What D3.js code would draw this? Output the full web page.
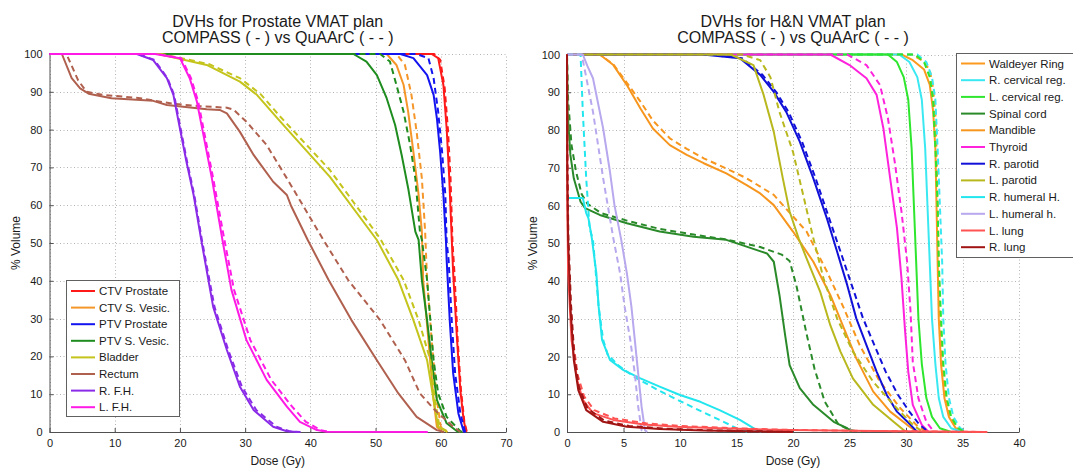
<!DOCTYPE html>
<html>
<head>
<meta charset="utf-8">
<script src="https://cdn.jsdelivr.net/npm/d3@7"></script>
<style>
  html, body { margin: 0; padding: 0; background: #fff; }
  svg { display: block; font-family: "Liberation Sans", Arial, Helvetica, sans-serif; }
</style>
</head>
<body>
<svg id="chart" width="1073" height="468"></svg>
<script>
// ---------- Prostate VMAT plan ----------
const prostateOrgans = ["CTV Prostate", "CTV S. Vesic.", "PTV Prostate", "PTV S. Vesic.", "Bladder", "Rectum", "R. F.H.", "L. F.H."];
const prostateColors = ["#ff1a1a", "#f5962a", "#1414f0", "#1e8c1e", "#c4c41c", "#b0604e", "#8a2be8", "#ff1ae6"];
// COMPASS curves (dose Gy, % volume)
const prostateCompass = [
  [[0,100],[58.6,100],[59.6,98.9],[60.4,91.8],[60.9,80.3],[61.3,67.1],[61.7,50.3],[61.9,42],[62.5,24.3],[63,11.1],[63.5,3.2],[63.9,0]],
  [[0,100],[51.7,100],[53.2,97.1],[54.3,91.8],[55,84.7],[55.8,74.1],[56.6,62.7],[57.1,53],[57.3,40.2],[58.1,24.3],[58.9,8.5],[59.4,1.4],[60.2,0]],
  [[0,100],[53.8,100],[55.8,98.9],[57.9,94.4],[58.9,89.2],[59.4,83],[59.9,74.1],[60.4,62.7],[60.8,50.3],[60.9,45.5],[61.4,28.8],[61.9,15.5],[62.7,4.9],[63.5,0.2],[63.8,0]],
  [[0,100],[46.6,100],[48.6,98],[50.2,94.4],[51.7,88.3],[53,81.2],[54,73.3],[55,64.5],[56.1,53],[56.6,50.8],[57.1,40.2],[57.9,29.6],[58.6,19],[59.4,8.5],[60.9,2.3],[62.5,0.2],[63,0]],
  [[0,100],[16.7,100],[24.1,97.1],[29.2,92.7],[31.8,89.2],[35.4,82.1],[43,67.5],[50.2,50.8],[53.5,40.2],[55.8,29.6],[57.9,19],[58.9,8.5],[59.6,1.4],[61,0]],
  [[0,100],[1.9,100],[3.4,93.6],[4.7,90.9],[6,89.5],[9.5,88.3],[15.9,87.6],[18,86.5],[24.1,85.4],[26.1,85.2],[27.2,84.3],[29.2,79.4],[31.3,73.3],[34.3,66.2],[36.4,62.7],[37,60],[39.6,50.8],[42.8,40.2],[46.3,29.6],[50.2,19],[53.5,10.2],[56.3,4],[59.4,0.5],[60.5,0]],
  [[0,100],[13.4,100],[15.9,98.4],[18,93.6],[19,89.2],[20,80.3],[21,71.5],[22.1,62.7],[23.3,50.5],[25.1,33.1],[27.2,21.7],[29.2,12],[31.3,5.8],[34.3,1.4],[36.4,0.2],[38,0]],
  [[0,100],[16.2,100],[20,98.9],[21.5,93.6],[22.6,87.4],[23.6,78.6],[24.9,67.1],[26.5,51],[27.9,37.6],[30.2,24.3],[33.3,13.8],[36.4,6.7],[38.4,2.7],[41,0.5],[42.5,0.05],[58,0]]
];
// QuAArC curves (dose Gy, % volume)
const prostateQuaarc = [
  [[0,100],[59,100],[59.9,98.5],[60.6,91],[61.1,80],[61.5,67],[61.8,50],[62.1,42],[62.6,24],[63.1,11],[63.6,3],[64,0]],
  [[0,100],[53.2,100],[54.5,97.1],[55.5,89.2],[56.3,79.4],[57.1,67.1],[57.6,53],[57.9,40.2],[58.6,24.3],[59.4,8.5],[60,1.4],[61,0]],
  [[0,100],[56.3,100],[58.1,98.9],[58.9,93.6],[59.6,84.7],[60.2,74.1],[60.7,62.7],[60.9,50.3],[61.2,45.5],[61.7,28.8],[62.2,15.5],[63,4.9],[63.7,0.2],[64,0]],
  [[0,100],[50.7,100],[52.2,98],[53.2,91.8],[54.3,84.7],[55.3,75.9],[56.1,67.1],[56.8,53],[57.1,50.8],[57.9,40.2],[58.4,29.6],[58.9,19],[59.6,10.2],[60.9,4],[63,0.2],[63.3,0]],
  [[0,100],[17.2,100],[24.5,97.3],[29.2,93.6],[32.3,89.5],[35.4,83.4],[43,69.3],[50.7,51.2],[54.3,40.2],[56.6,29.6],[58.4,19],[59.1,8.5],[59.8,1.4],[61.2,0]],
  [[0,100],[2.6,100],[4.4,93],[5.7,90],[8.2,89.2],[13.9,88.3],[19,86.8],[23,86.2],[27.2,85.8],[28.2,85.3],[30.2,82.1],[33.3,75.9],[36.4,67.1],[42,50.8],[45.8,40.2],[50.7,29.6],[54.5,19],[56.8,10.2],[59.1,5.8],[61.9,1.4],[63,0]],
  [[0,100],[13.6,100],[16.1,98.4],[18.1,93.6],[19.1,89.2],[20.1,80.3],[21.1,71.5],[22.2,62.7],[23.4,50.5],[25.3,33.1],[27.4,21.7],[29.5,12],[31.7,5.8],[34.8,1.4],[36.8,0.2],[38.5,0]],
  [[0,100],[16.4,100],[20.2,98.9],[21.7,93.6],[22.8,87.4],[23.8,78.6],[25.1,67.1],[26.8,51],[28.3,37.6],[30.8,24.3],[34,13.8],[37.2,6.7],[39.3,2.7],[41.6,0.5],[43,0]]
];
const prostateDoseTicks = [0, 10, 20, 30, 40, 50, 60, 70];

// ---------- H&N VMAT plan ----------
const hnOrgans = ["Waldeyer Ring", "R. cervical reg.", "L. cervical reg.", "Spinal cord", "Mandible", "Thyroid", "R. parotid", "L. parotid", "R. humeral H.", "L. humeral h.", "L. lung", "R. lung"];
const hnColors = ["#fb9a1e", "#3ae8f2", "#2ee62e", "#2a8a2a", "#f7961e", "#ff22dc", "#1010d8", "#b8b81e", "#22e6ee", "#b8a8ee", "#ff5252", "#a01414"];
const hnCompass = [
  [[0,100],[29.6,100],[30.6,98.5],[31.6,96],[32.1,92],[32.4,85],[32.6,75],[32.7,60],[32.8,45],[32.9,30],[33.1,18],[33.4,9],[33.8,4],[34.4,1],[35,0]],
  [[0,100],[29.4,100],[30.3,98],[31,94],[31.4,88],[31.7,75],[31.9,60],[32.1,45],[32.3,30],[32.6,18],[32.9,9],[33.3,4],[34,1],[35,0]],
  [[0,100],[28.4,100],[29.2,98],[29.8,94],[30.2,88],[30.5,75],[30.7,60],[30.9,45],[31.1,30],[31.4,18],[31.8,9],[32.3,4],[33,1],[34,0]],
  [[0,100],[0.05,85],[0.3,73.4],[0.6,67.2],[1.2,61],[1.6,59.3],[2.9,57.5],[5.3,55.3],[8.2,53.1],[11.2,51.7],[14.1,50.9],[15.3,49.7],[17.7,47.3],[18.3,45.1],[18.8,36.3],[19.3,25.7],[19.7,17.7],[20.6,11.6],[21.8,7.2],[23.6,2.7],[24.8,1],[25.2,0]],
  [[0,100],[2.9,100],[4.1,97.2],[5.3,91.9],[6.5,85.7],[7.6,80.4],[9.1,76],[10.6,73.4],[12.1,71.2],[14.1,68.5],[15.9,65.4],[17.1,63.2],[18.3,60.1],[20,53.1],[21.8,45.1],[23.3,36.3],[24.5,27.5],[25.6,19.5],[27.1,10.7],[28.6,5.4],[30.1,1.9],[31,0]],
  [[0,100],[23.3,100],[25,97.2],[26.5,93.7],[27.4,89.3],[28,80.4],[28.6,67.2],[29.2,54],[29.6,40.7],[29.9,27.5],[30.2,16],[30.6,7.2],[31.4,1.9],[32,0]],
  [[0,100],[12,100],[15.3,99],[17.1,94.6],[18.3,90.1],[19.4,84.8],[20.6,76.9],[21.8,67.2],[23,56.6],[23.9,47.8],[24.8,38.9],[25.6,30.1],[26.5,23],[27.4,16],[28.3,9.8],[29.2,5.4],[30.4,1.9],[31,0]],
  [[0,100],[14.5,100],[16.5,97.2],[17.4,89.3],[18.3,79.5],[19.1,67.2],[19.7,58.4],[20.5,51.3],[21.2,46],[22.4,37.2],[23.3,28.3],[24.2,21.3],[25.3,14.2],[27.1,7.2],[28.9,2.7],[30,0]],
  [[0,62],[1.4,62],[1.7,58],[1.9,56.6],[2.2,51.3],[2.6,42],[2.8,33.2],[3.1,24.4],[3.8,19.1],[5,16.4],[6.5,14.2],[8.2,12],[10,9.8],[11.8,8],[13.5,5.8],[15.3,3.2],[16.8,0.5],[17.2,0]],
  [[0,100],[1.4,100],[1.8,97],[2.3,93.7],[3.2,80.4],[3.8,69],[4.2,60.1],[4.8,50.9],[5.3,42],[5.7,33.2],[6,24.4],[6.3,15.5],[6.6,6.7],[6.9,0.5],[7.1,0]],
  [[0,100],[0.03,60],[0.1,42],[0.4,24.4],[0.9,13.8],[1.4,8.5],[2.3,5],[4.1,3.2],[6.8,2],[9.7,1.4],[13.5,1],[18,0.6],[25,0.3],[37,0]],
  [[0,100],[0.02,70],[0.1,50.9],[0.3,33.2],[0.6,19.1],[1,11.1],[1.7,5.8],[3.2,2.7],[5.3,1.4],[8.2,0.8],[12,0.4],[20,0]]
];
const hnQuaarc = [
  [[0,100],[30.5,100],[31.4,98.5],[32.1,96],[32.4,91],[32.6,84],[32.7,75],[32.8,60],[32.9,45],[33,30],[33.2,18],[33.5,9],[33.9,4],[34.5,1],[35.2,0]],
  [[0,100],[31,100],[31.8,98],[32.3,94],[32.6,88],[32.8,75],[33,60],[33.2,45],[33.3,30],[33.5,18],[33.8,9],[34.2,4],[34.8,1],[35.4,0]],
  [[0,100],[30.8,100],[31.6,98],[32.1,94],[32.4,88],[32.6,75],[32.8,60],[32.9,45],[33.1,30],[33.3,18],[33.6,9],[34,4],[34.6,1],[35.2,0]],
  [[0,100],[0.1,88],[0.4,76],[0.8,69],[1.3,63],[1.8,60.5],[3,58],[5.3,56],[8.2,53.8],[11.2,52.3],[14.1,51],[17.1,49],[19,47],[19.7,45.3],[20.3,38.8],[21.2,26],[21.9,16.8],[22.8,8.1],[24,2.1],[25,0.5],[26.1,0]],
  [[0,100],[2.9,100],[4.1,97.4],[5.3,92.5],[6.5,87.5],[7.6,82.5],[9.1,77.8],[10.6,75],[12.1,72.5],[14.1,69.8],[15.9,67.2],[18.3,62.8],[21.2,53.1],[23,42.5],[24.5,32.8],[25.9,23],[27.7,13.3],[29.5,6.3],[30.9,1.9],[31.8,0]],
  [[0,100],[24.8,100],[26.5,97.2],[27.7,91.9],[28.4,83.1],[29,71.6],[29.6,58.4],[30.1,45.1],[30.4,31.9],[30.6,18.6],[31.1,8.9],[31.8,2.7],[32.5,0]],
  [[0,100],[12.5,100],[15.5,99],[17.3,94.6],[18.5,90.1],[19.6,84.8],[20.8,76.9],[22,67.2],[23.2,56.6],[24.2,47.8],[25.2,38.9],[26.2,30.1],[27.2,23],[28.2,16],[29.3,9.8],[30.3,5.4],[31.2,1.9],[32,0]],
  [[0,100],[15.5,100],[17.1,98.5],[18,94],[18.8,84.8],[20,74.2],[20.9,62.8],[21.8,51.3],[22.7,40.7],[23.9,30.1],[25.3,21.3],[27.1,13.3],[28.9,7.2],[30.6,1.9],[31.5,0]],
  [[0,100],[1.2,100],[1.4,84.8],[1.7,67.2],[2,54],[2.3,50.9],[2.8,33.2],[3.2,24.4],[3.6,20.5],[4.6,17.5],[6,14.5],[8,11.2],[10,8.2],[12,5.3],[14,2.5],[15,1],[16,0]],
  [[0,100],[1.3,100],[1.7,94],[2.3,84.8],[3.2,67.2],[4.1,51.3],[4.7,42],[5.1,33.2],[5.6,24.4],[6,15.5],[6.3,6.7],[6.6,0.5],[6.8,0]],
  [[0,100],[0.04,62],[0.12,44],[0.45,26],[0.95,15],[1.5,9.5],[2.4,5.8],[4.2,3.6],[7,2.3],[10,1.6],[14,1.1],[19,0.6],[26,0.3],[37.2,0]],
  [[0,100],[0.03,72],[0.12,52],[0.35,34],[0.65,20],[1.05,12],[1.8,6.3],[3.3,3],[5.5,1.6],[8.5,0.9],[12,0.5],[20,0]]
];
const hnDoseTicks = [0, 5, 10, 15, 20, 25, 30, 35, 40];
const volumeTicks = [0, 10, 20, 30, 40, 50, 60, 70, 80, 90, 100];
const titleLine2 = "COMPASS ( - ) vs QuAArC ( - - )";

const svg = d3.select("#chart");

function drawPanel(cfg) {
  const x = d3.scaleLinear().domain(cfg.xDomain).range(cfg.xRange);
  const y = d3.scaleLinear().domain([0, 100]).range(cfg.yRange);
  const g = svg.append("g");
  const [x0, x1] = cfg.xRange, [y0, y1] = cfg.yRange;

  // dotted grid
  const grid = g.append("g").attr("stroke", "#b4b4b4").attr("stroke-width", 1).attr("stroke-dasharray", "1,2.5");
  grid.selectAll("line.v").data(cfg.xTicks).join("line")
    .attr("x1", d => Math.round(x(d)) + 0.5).attr("x2", d => Math.round(x(d)) + 0.5)
    .attr("y1", y0).attr("y2", y1);
  grid.selectAll("line.h").data(volumeTicks).join("line")
    .attr("y1", d => Math.round(y(d)) + 0.5).attr("y2", d => Math.round(y(d)) + 0.5)
    .attr("x1", x0).attr("x2", x1);

  // axes
  const xAxis = d3.axisBottom(x).tickValues(cfg.xTicks).tickSizeInner(-4).tickSizeOuter(0).tickPadding(7);
  const yAxis = d3.axisLeft(y).tickValues(volumeTicks).tickSizeInner(-4).tickSizeOuter(0).tickPadding(7);
  const gx = g.append("g").attr("transform", `translate(0,${y0})`).call(xAxis);
  const gy = g.append("g").attr("transform", `translate(${x0},0)`).call(yAxis);
  [gx, gy].forEach(a => {
    a.select(".domain").attr("stroke", "#505050");
    a.selectAll(".tick line").attr("stroke", "#505050");
    a.selectAll(".tick text").attr("fill", "#1a1a1a").style("font-size", "11px")
      .style("font-family", "'Liberation Sans', Arial, sans-serif");
  });

  // curves
  const clipId = cfg.id + "-clip";
  svg.append("clipPath").attr("id", clipId).append("rect")
    .attr("x", x0 - 2).attr("y", y1 - 2).attr("width", x1 - x0 + 4).attr("height", y0 - y1 + 4);
  const line = d3.line().x(d => x(d[0])).y(d => y(d[1]));
  const curves = g.append("g").attr("clip-path", `url(#${clipId})`)
    .attr("fill", "none").attr("stroke-width", 2).attr("stroke-linejoin", "round");
  cfg.organs.forEach((name, i) => {
    curves.append("path").attr("d", line(cfg.compass[i])).attr("stroke", cfg.colors[i]);
    curves.append("path").attr("d", line(cfg.quaarc[i])).attr("stroke", cfg.colors[i])
      .attr("stroke-dasharray", "6,4");
  });

  // titles and labels
  const cx = (x0 + x1) / 2;
  const title = g.append("text").attr("text-anchor", "middle").attr("fill", "#1a1a1a").style("font-size", "16px");
  title.append("tspan").attr("x", cx).attr("y", 27).text(cfg.title);
  title.append("tspan").attr("x", cx).attr("y", 43).text(titleLine2);
  g.append("text").attr("x", cx).attr("y", 465).attr("text-anchor", "middle")
    .attr("fill", "#1a1a1a").style("font-size", "12px").text("Dose (Gy)");
  g.append("text").attr("transform", `translate(${cfg.yLabelX},${(y0 + y1) / 2}) rotate(-90)`)
    .attr("text-anchor", "middle").attr("fill", "#1a1a1a").style("font-size", "12px").text("% Volume");

  // legend
  const L = cfg.legend;
  const lg = g.append("g");
  lg.append("rect").attr("x", L.x + 0.5).attr("y", L.y + 0.5).attr("width", L.w).attr("height", L.h)
    .attr("fill", "#fff").attr("stroke", "#606060").attr("stroke-width", 1);
  cfg.organs.forEach((name, i) => {
    const yy = L.y + L.first + i * L.step;
    lg.append("line").attr("x1", L.x + 5).attr("x2", L.x + 29).attr("y1", yy).attr("y2", yy)
      .attr("stroke", cfg.colors[i]).attr("stroke-width", 2);
    lg.append("text").attr("x", L.x + 33).attr("y", yy + 4).attr("fill", "#1a1a1a")
      .style("font-size", "11.5px").text(name);
  });
}

drawPanel({
  id: "prostate", title: "DVHs for Prostate VMAT plan",
  xDomain: [0, 70], xRange: [49.5, 506], yRange: [432, 54], xTicks: prostateDoseTicks,
  organs: prostateOrgans, colors: prostateColors, compass: prostateCompass, quaarc: prostateQuaarc,
  yLabelX: 20, legend: { x: 66, y: 280, w: 113, h: 136, first: 11, step: 16.6 }
});
drawPanel({
  id: "hn", title: "DVHs for H&N VMAT plan",
  xDomain: [0, 40], xRange: [567, 1019], yRange: [432, 54.5], xTicks: hnDoseTicks,
  organs: hnOrgans, colors: hnColors, compass: hnCompass, quaarc: hnQuaarc,
  yLabelX: 537, legend: { x: 956, y: 53, w: 130, h: 204, first: 10.5, step: 16.7 }
});
</script>
</body>
</html>
